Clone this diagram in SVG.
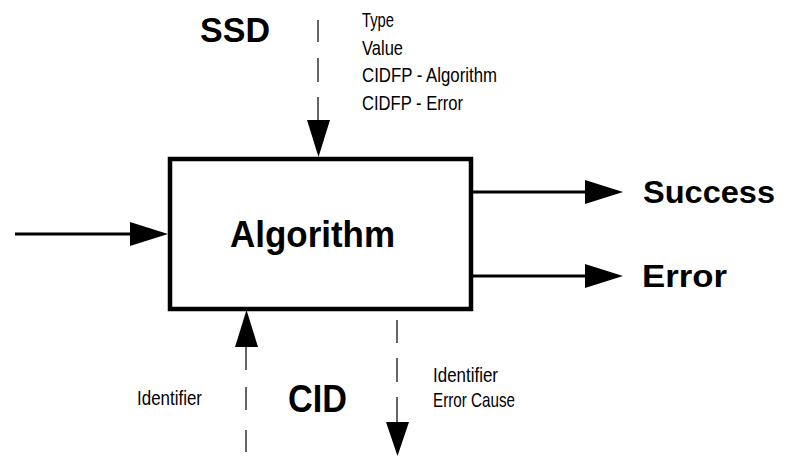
<svg xmlns="http://www.w3.org/2000/svg" width="787" height="457" viewBox="0 0 787 457">
<style>
.big{font-family:"Liberation Sans",Arial,sans-serif;font-weight:bold;fill:#000}
.small{font-family:"Liberation Sans",Arial,sans-serif;font-size:21px;fill:#000}
.solid{stroke:#000;stroke-width:3;fill:none}
.dash{stroke:#000;stroke-width:1.2;fill:none}
.head{fill:#000}
</style>
<rect width="787" height="457" fill="#fff"/>
<g id="algorithm">
<rect x="170" y="159" width="301" height="150" fill="#fff" stroke="#000" stroke-width="4.5"/>
<text class="big" x="230" y="247" font-size="36" textLength="165" lengthAdjust="spacingAndGlyphs">Algorithm</text>
</g>
<g id="ssd">
<text class="big" x="200" y="42" font-size="35" textLength="70" lengthAdjust="spacingAndGlyphs">SSD</text>
<text class="small" x="362" y="27" textLength="32" lengthAdjust="spacingAndGlyphs">Type</text>
<text class="small" x="362" y="55" textLength="41" lengthAdjust="spacingAndGlyphs">Value</text>
<text class="small" x="362" y="82" textLength="135" lengthAdjust="spacingAndGlyphs">CIDFP - Algorithm</text>
<text class="small" x="362" y="110" textLength="101" lengthAdjust="spacingAndGlyphs">CIDFP - Error</text>
</g>
<g id="cid">
<text class="big" x="288" y="412" font-size="38" textLength="59" lengthAdjust="spacingAndGlyphs">CID</text>
<text class="small" x="137" y="405" textLength="65" lengthAdjust="spacingAndGlyphs">Identifier</text>
<text class="small" x="433" y="382" textLength="65" lengthAdjust="spacingAndGlyphs">Identifier</text>
<text class="small" x="433" y="407" textLength="82" lengthAdjust="spacingAndGlyphs">Error Cause</text>
</g>
<g id="success">
<text class="big" x="643" y="203" font-size="32" textLength="132" lengthAdjust="spacingAndGlyphs">Success</text>
</g>
<g id="error">
<text class="big" x="642" y="287" font-size="32" textLength="85" lengthAdjust="spacingAndGlyphs">Error</text>
</g>
<g id="connectors">
<line class="solid" x1="15" y1="234" x2="134" y2="234"/>
<polygon class="head" points="130,222 168,234 130,246"/>
<line class="solid" x1="471" y1="192" x2="589" y2="192"/>
<polygon class="head" points="585,180 623,192 585,204"/>
<line class="solid" x1="471" y1="276" x2="589" y2="276"/>
<polygon class="head" points="585,264 623,276 585,288"/>
<path class="dash" d="M318,20V42M318,58V82M318,97V122"/>
<polygon class="head" points="307,120 330,120 318.5,157"/>
<path class="dash" d="M246,345V370M246,387V410M246,430V452"/>
<polygon class="head" points="235,347 258,347 246.5,310"/>
<path class="dash" d="M397,320V343M397,358V382M397,397V424"/>
<polygon class="head" points="386,422 409,422 397.5,456"/>
</g>
</svg>
